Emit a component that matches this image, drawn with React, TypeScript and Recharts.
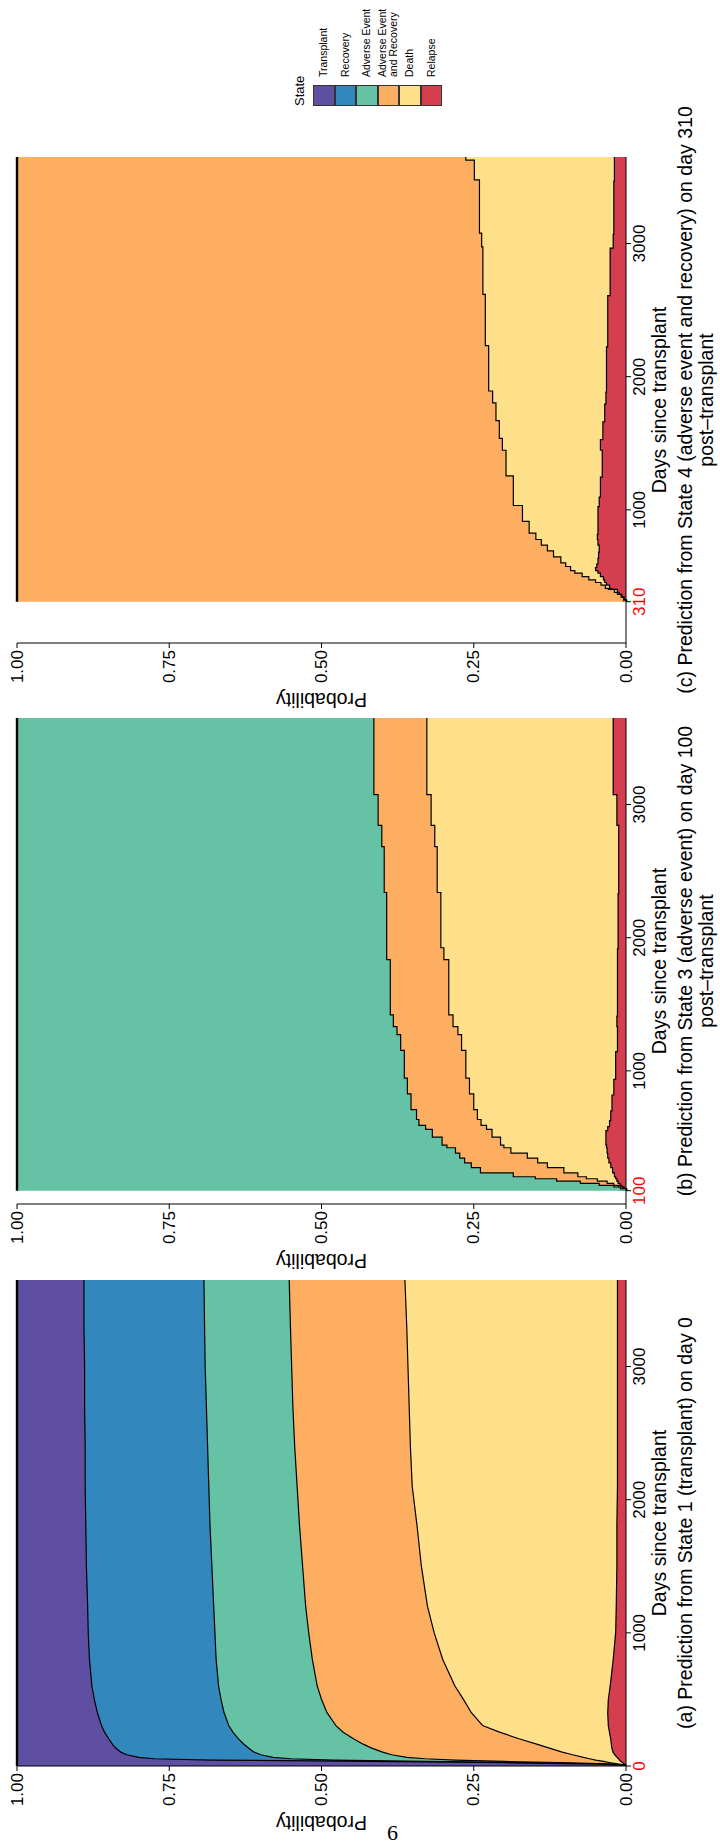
import React from "react";
import { AreaChart, Area, XAxis, YAxis } from "recharts";

const FONT = '"Liberation Sans", Arial, Helvetica, sans-serif';

// stack order, bottom first
const STATE_KEYS = ["relapse", "death", "advRec", "advEvent", "recovery", "transplant"];
const STATE_NAMES: Record<string, string> = {
  transplant: "Transplant",
  recovery: "Recovery",
  advEvent: "Adverse Event",
  advRec: "Adverse Event\nand Recovery",
  death: "Death",
  relapse: "Relapse",
};
const STATE_COLORS: Record<string, string> = {
  transplant: "#5E4FA2",
  recovery: "#3288BD",
  advEvent: "#66C2A5",
  advRec: "#FDAE61",
  death: "#FEE08B",
  relapse: "#D53E4F",
};
const LEGEND_ORDER = ["transplant", "recovery", "advEvent", "advRec", "death", "relapse"];

const PROB_TICKS = [0, 0.25, 0.5, 0.75, 1];
const DAY_MAX = 3650;

// (a) from state 1 on day 0 -- cumulative probability up to the top of each state
const daysA = [0, 10, 20, 30, 40, 50, 60, 80, 100, 130, 160, 200, 250, 300, 400, 500, 600, 800, 1000, 1200, 1500, 1800, 2100, 2400, 2700, 3000, 3300, 3650];
const aUpToRelapse = [0, 0.003, 0.006, 0.009, 0.011, 0.013, 0.015, 0.019, 0.022, 0.024, 0.025, 0.026, 0.028, 0.03, 0.031, 0.03, 0.027, 0.022, 0.018, 0.017, 0.016, 0.016, 0.015, 0.015, 0.015, 0.015, 0.015, 0.015];
const aUpToDeath = [0, 0.012, 0.025, 0.037, 0.05, 0.06, 0.07, 0.088, 0.105, 0.126, 0.147, 0.176, 0.208, 0.236, 0.255, 0.268, 0.282, 0.302, 0.316, 0.327, 0.337, 0.344, 0.352, 0.355, 0.357, 0.359, 0.361, 0.364];
const aUpToAdvRec = [0, 0.02, 0.09, 0.2, 0.28, 0.33, 0.36, 0.385, 0.4, 0.418, 0.432, 0.448, 0.465, 0.477, 0.492, 0.501, 0.508, 0.516, 0.522, 0.527, 0.532, 0.537, 0.541, 0.545, 0.548, 0.55, 0.552, 0.554];
const aUpToAdvEvent = [0, 0.03, 0.15, 0.33, 0.48, 0.55, 0.58, 0.6, 0.611, 0.62, 0.628, 0.637, 0.646, 0.653, 0.661, 0.666, 0.67, 0.674, 0.676, 0.678, 0.681, 0.684, 0.686, 0.688, 0.69, 0.692, 0.693, 0.694];
const aUpToRecovery = [0, 0.04, 0.2, 0.42, 0.68, 0.775, 0.8, 0.82, 0.83, 0.838, 0.844, 0.85, 0.857, 0.862, 0.869, 0.874, 0.878, 0.882, 0.884, 0.885, 0.887, 0.888, 0.889, 0.889, 0.89, 0.89, 0.891, 0.891];

// (b) from state 3 on day 100
const daysB = [100, 110, 123, 135, 150, 168, 185, 200, 230, 268, 304, 340, 378, 418, 437, 497, 556, 586, 630, 704, 823, 941, 1149, 1267, 1327, 1416, 1831, 1920, 2335, 2680, 2839, 3070, 3650];
const bUpToRelapse = [0, 0.004, 0.008, 0.011, 0.014, 0.016, 0.018, 0.02, 0.023, 0.026, 0.029, 0.031, 0.032, 0.033, 0.034, 0.034, 0.031, 0.028, 0.026, 0.024, 0.021, 0.018, 0.015, 0.015, 0.016, 0.015, 0.015, 0.014, 0.013, 0.013, 0.016, 0.022, 0.022];
const bUpToDeath = [0, 0.006, 0.013, 0.021, 0.032, 0.048, 0.066, 0.08, 0.103, 0.13, 0.146, 0.163, 0.19, 0.2015, 0.207, 0.221, 0.23, 0.239, 0.245, 0.251, 0.258, 0.264, 0.271, 0.277, 0.285, 0.292, 0.3, 0.305, 0.311, 0.315, 0.321, 0.328, 0.328];
const bUpToAdvRec = [0, 0.01, 0.021, 0.045, 0.076, 0.115, 0.15, 0.186, 0.24, 0.255, 0.266, 0.274, 0.281, 0.295, 0.303, 0.319, 0.33, 0.341, 0.345, 0.354, 0.36, 0.365, 0.371, 0.377, 0.383, 0.388, 0.394, 0.394, 0.398, 0.402, 0.408, 0.415, 0.415];

// (c) from state 4 on day 310
const daysC = [310, 318, 340, 361, 375, 398, 405, 430, 450, 470, 494, 520, 539, 570, 598, 642, 687, 731, 773, 820, 909, 1028, 1100, 1250, 1443, 1532, 1666, 1799, 1888, 2229, 2614, 2970, 3074, 3474, 3622, 3650];
const cUpToRelapse = [0, 0.004, 0.008, 0.012, 0.015, 0.026, 0.028, 0.033, 0.036, 0.038, 0.043, 0.047, 0.051, 0.049, 0.047, 0.046, 0.045, 0.047, 0.048, 0.047, 0.047, 0.045, 0.043, 0.04, 0.043, 0.039, 0.036, 0.034, 0.033, 0.031, 0.027, 0.022, 0.021, 0.02, 0.02, 0.02];
const cUpToDeath = [0, 0.005, 0.009, 0.015, 0.02, 0.03, 0.035, 0.042, 0.051, 0.062, 0.073, 0.085, 0.092, 0.1, 0.108, 0.12, 0.13, 0.14, 0.149, 0.16, 0.171, 0.186, 0.186, 0.198, 0.204, 0.209, 0.2145, 0.22, 0.2265, 0.232, 0.236, 0.238, 0.2416, 0.25, 0.264, 0.264];

// turn the cumulative edges into one value per state (last state fills up to 1)
function buildRows(days: number[], keys: string[], edges: number[][]) {
  return days.map((day, i) => {
    const row: Record<string, number> = { day };
    let prev = 0;
    keys.forEach((k, j) => {
      const top = j < edges.length ? edges[j][i] : 1;
      row[k] = +(top - prev).toFixed(4);
      prev = top;
    });
    return row;
  });
}

const panels = [
  {
    id: "a",
    left: 11,
    start: 0,
    curve: "linear",
    keys: STATE_KEYS,
    data: buildRows(daysA, STATE_KEYS, [aUpToRelapse, aUpToDeath, aUpToAdvRec, aUpToAdvEvent, aUpToRecovery]),
    caption: ["(a) Prediction from State 1 (transplant) on day 0"],
  },
  {
    id: "b",
    left: 573,
    start: 100,
    curve: "stepAfter",
    keys: ["relapse", "death", "advRec", "advEvent"],
    data: buildRows(daysB, ["relapse", "death", "advRec", "advEvent"], [bUpToRelapse, bUpToDeath, bUpToAdvRec]),
    caption: ["(b) Prediction from State 3 (adverse event) on day 100", "post\u2013transplant"],
  },
  {
    id: "c",
    left: 1134,
    start: 310,
    curve: "stepAfter",
    keys: ["relapse", "death", "advRec"],
    data: buildRows(daysC, ["relapse", "death", "advRec"], [cUpToRelapse, cUpToDeath]),
    caption: ["(c) Prediction from State 4 (adverse event and recovery) on day 310", "post\u2013transplant"],
  },
];

const CHART_W = 570;
const CHART_H = 720;
const Y_AXIS_W = 70;
const PLOT_W = 486;

function DayTick(props: any) {
  const { x, y, payload, start } = props;
  const isStart = payload.value === start;
  return (
    <text
      x={x}
      y={y + 6}
      textAnchor="middle"
      dominantBaseline="central"
      fontSize={17}
      fontFamily={FONT}
      fill={isStart ? "#ff0000" : "#000"}
    >
      {payload.value}
    </text>
  );
}

function ProbTick(props: any) {
  const { x, y, payload } = props;
  return (
    <text x={x} y={y} textAnchor="end" dominantBaseline="central" fontSize={17} fontFamily={FONT} fill="#000">
      {payload.value.toFixed(2)}
    </text>
  );
}

function Panel({ panel }: { panel: any }) {
  const plotLeft = panel.left + Y_AXIS_W;
  return (
    <>
      <div style={{ position: "absolute", left: panel.left, top: 0 }}>
        <AreaChart
          width={CHART_W}
          height={CHART_H}
          data={panel.data}
          margin={{ top: 17, right: CHART_W - Y_AXIS_W - PLOT_W, bottom: 64, left: 0 }}
        >
          <XAxis
            type="number"
            dataKey="day"
            domain={[0, DAY_MAX]}
            allowDataOverflow
            ticks={[panel.start, 1000, 2000, 3000]}
            interval={0}
            height={30}
            tickSize={5}
            axisLine={{ stroke: "#000", strokeWidth: 1 }}
            tickLine={{ stroke: "#000", strokeWidth: 1 }}
            tick={<DayTick start={panel.start} />}
          />
          <YAxis
            type="number"
            domain={[0, 1]}
            ticks={PROB_TICKS}
            interval={0}
            width={Y_AXIS_W}
            tickSize={5}
            axisLine={{ stroke: "#000", strokeWidth: 1 }}
            tickLine={{ stroke: "#000", strokeWidth: 1 }}
            tick={<ProbTick />}
            label={{
              value: "Probability",
              angle: -90,
              position: "insideLeft",
              offset: 13,
              style: { textAnchor: "middle", fontSize: 19.5, fontFamily: FONT, fill: "#000" },
            }}
          />
          {panel.keys.map((k: string) => (
            <Area
              key={k}
              type={panel.curve}
              dataKey={k}
              name={STATE_NAMES[k]}
              stackId="p"
              stroke="#000"
              strokeWidth={2.4}
              fill={STATE_COLORS[k]}
              fillOpacity={1}
              dot={false}
              activeDot={false}
              isAnimationActive={false}
            />
          ))}
        </AreaChart>
      </div>
      <div
        style={{
          position: "absolute",
          left: plotLeft,
          top: 649,
          width: PLOT_W,
          textAlign: "center",
          fontSize: 19.5,
          lineHeight: "20px",
          whiteSpace: "nowrap",
        }}
      >
        Days since transplant
      </div>
      <div
        style={{
          position: "absolute",
          left: plotLeft - 100,
          top: 675,
          width: PLOT_W + 200,
          textAlign: "center",
          fontSize: 19.5,
          lineHeight: "21px",
          whiteSpace: "nowrap",
        }}
      >
        {panel.caption.map((line: string) => (
          <div key={line}>{line}</div>
        ))}
      </div>
    </>
  );
}

function StateLegend() {
  return (
    <div style={{ position: "absolute", left: 1741, top: 292, fontFamily: FONT, color: "#000" }}>
      <div style={{ fontSize: 13, lineHeight: "16px", height: 21 }}>State</div>
      {LEGEND_ORDER.map((k) => (
        <div key={k} style={{ display: "flex", alignItems: "center", height: 21.5 }}>
          <div
            style={{
              width: 21,
              height: 21.5,
              boxSizing: "border-box",
              border: "1px solid #333",
              background: STATE_COLORS[k],
            }}
          />
          <div style={{ marginLeft: 8, fontSize: 10.5, lineHeight: "11px", whiteSpace: "pre" }}>{STATE_NAMES[k]}</div>
        </div>
      ))}
    </div>
  );
}

export default function App() {
  return (
    <div
      style={{
        position: "absolute",
        left: 0,
        top: 0,
        width: 720,
        height: 1847,
        overflow: "hidden",
        background: "#fff",
        fontFamily: FONT,
      }}
    >
      <div
        style={{
          position: "absolute",
          left: 0,
          top: 0,
          width: 1847,
          height: 720,
          transformOrigin: "0 0",
          transform: "translate(0px, 1847px) rotate(-90deg)",
        }}
      >
        {panels.map((p) => (
          <Panel key={p.id} panel={p} />
        ))}
        <StateLegend />
      </div>
      <div
        style={{
          position: "absolute",
          left: 387,
          top: 1822,
          fontFamily: '"Liberation Serif", "Times New Roman", serif',
          fontSize: 22,
          lineHeight: "22px",
        }}
      >
        6
      </div>
    </div>
  );
}
